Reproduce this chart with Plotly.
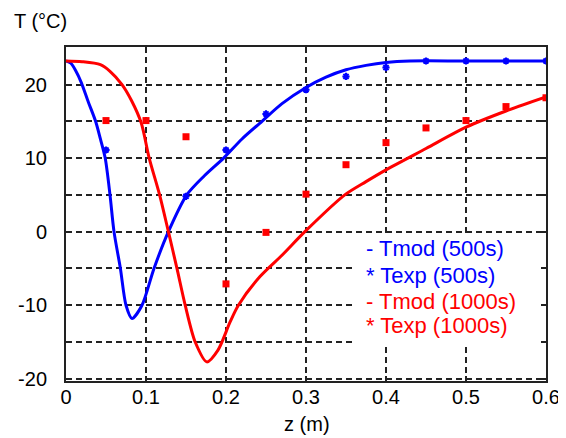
import plotly.graph_objects as go

# Model curve, t = 500 s
z_mod_500 = [0.0, 0.006, 0.012, 0.019, 0.028, 0.037, 0.043, 0.049, 0.055, 0.06, 0.068, 0.075,
             0.0825, 0.095, 0.11, 0.128, 0.151, 0.173, 0.197, 0.22, 0.245, 0.27, 0.3,
             0.325, 0.35, 0.375, 0.4, 0.43, 0.5, 0.6]
T_mod_500 = [23.2, 22.9, 21.9, 20.3, 17.6, 15.0, 12.6, 10.0, 5.0, 0.0, -5.0, -10.0,
             -11.8, -10.0, -5.0, 0.0, 5.0, 7.6, 10.0, 12.6, 15.0, 17.4, 19.6,
             21.0, 22.0, 22.6, 23.0, 23.2, 23.2, 23.2]

# Model curve, t = 1000 s
z_mod_1000 = [0.0, 0.02, 0.043, 0.055, 0.07, 0.082, 0.094, 0.104, 0.117, 0.128, 0.1387,
              0.149, 0.1615, 0.176, 0.19, 0.205, 0.2155, 0.2425, 0.27, 0.2986, 0.3485,
              0.375, 0.4, 0.45, 0.5, 0.55, 0.6]
T_mod_1000 = [23.2, 23.1, 22.7, 21.8, 20.0, 17.8, 14.8, 10.0, 5.0, 0.0, -5.0,
              -10.0, -15.0, -17.7, -16.1, -12.3, -10.0, -6.1, -3.2, 0.0, 5.0,
              6.8, 8.4, 11.3, 14.2, 16.4, 18.3]

# Experimental points
z_exp_500 = [0.05, 0.15, 0.2, 0.25, 0.3, 0.35, 0.4, 0.45, 0.5, 0.55, 0.6]
T_exp_500 = [11.1, 4.8, 11.1, 16.0, 19.3, 21.1, 22.3, 23.2, 23.2, 23.2, 23.2]

z_exp_1000 = [0.05, 0.1, 0.15, 0.2, 0.25, 0.3, 0.35, 0.4, 0.45, 0.5, 0.55, 0.6]
T_exp_1000 = [15.1, 15.1, 12.9, -7.1, -0.1, 5.1, 9.1, 12.1, 14.1, 15.1, 17.0, 18.2]

x_ticks = [0, 0.1, 0.2, 0.3, 0.4, 0.5, 0.6]
x_labels = ["0", "0.1", "0.2", "0.3", "0.4", "0.5", "0.6"]
y_ticks = [-20, -15, -10, -5, 0, 5, 10, 15, 20]
y_labels = ["-20", "", "-10", "", "0", "", "10", "", "20"]

legend_texts = ["- Tmod (500s)", "* Texp (500s)", "- Tmod (1000s)", "* Texp (1000s)"]
legend_colors = ["#0000FF", "#0000FF", "#FF0000", "#FF0000"]
legend_y = [-2.3, -5.9, -9.5, -12.7]

BLUE = "#0000FF"
RED = "#FF0000"
FONT = "Liberation Sans"

# The page places the figure 8 px in from the top-left corner (body margin),
# so the figure is laid out in coordinates shifted by that offset.
OFF = 8
W, H = 566 - OFF, 438 - OFF
L, R, T, B = 66 - OFF, 20, 47 - OFF, 57
PW, PH = W - L - R, H - T - B


def px_to_paper(px, py):
    """Reference-image pixel -> paper coordinates."""
    fx, fy = px - OFF, py - OFF
    return (fx - L) / PW, (H - B - fy) / PH


fig = go.Figure()
fig.add_trace(go.Scatter(x=z_mod_500, y=T_mod_500, mode="lines",
                         line=dict(color=BLUE, width=3, shape="spline", smoothing=0.8)))
fig.add_trace(go.Scatter(x=z_mod_1000, y=T_mod_1000, mode="lines",
                         line=dict(color=RED, width=3, shape="spline", smoothing=0.8)))
fig.add_trace(go.Scatter(x=z_exp_500, y=T_exp_500, mode="markers",
                         marker=dict(symbol="asterisk-open", size=6, color=BLUE,
                                     line=dict(color=BLUE, width=2))))
fig.add_trace(go.Scatter(x=z_exp_1000, y=T_exp_1000, mode="markers",
                         marker=dict(symbol="square", size=7, color=RED,
                                     line=dict(color=RED, width=0))))

# white legend area
fig.add_shape(type="rect", xref="x", yref="y", x0=0.361, x1=0.598, y0=-15.6, y1=-0.35,
              fillcolor="white", line=dict(width=0), layer="between")

for txt, col, yy in zip(legend_texts, legend_colors, legend_y):
    fig.add_annotation(x=0.372, y=yy, xref="x", yref="y", text=txt, showarrow=False,
                       xanchor="left", yanchor="middle",
                       font=dict(family=FONT, size=22, color=col))

tx, ty = px_to_paper(12, 21)
fig.add_annotation(x=tx, y=ty, xref="paper", yref="paper", text="T (°C)", showarrow=False,
                   xanchor="left", yanchor="middle",
                   font=dict(family=FONT, size=20, color="black"))
zx, zy = px_to_paper(307, 424)
fig.add_annotation(x=zx, y=zy, xref="paper", yref="paper", text="z (m)",
                   showarrow=False, xanchor="center", yanchor="middle",
                   font=dict(family=FONT, size=20, color="black"))

axis_common = dict(showline=True, linecolor="#222222", linewidth=2, mirror="ticks",
                   ticks="inside", ticklen=5, tickwidth=1.5, tickcolor="#222222",
                   showgrid=True, gridcolor="#222222", gridwidth=1.5, griddash="6px,4px",
                   zeroline=False, automargin=False,
                   tickfont=dict(family=FONT, size=20, color="black"))

fig.update_xaxes(range=[0, 0.6], tickvals=x_ticks, ticktext=x_labels,
                 ticklabelstandoff=-3, **axis_common)
fig.update_yaxes(range=[-20.3, 25.1], tickvals=y_ticks, ticktext=y_labels,
                 ticklabelstandoff=13, **axis_common)

fig.update_layout(width=W, height=H, margin=dict(l=L, r=R, t=T, b=B),
                  plot_bgcolor="white", paper_bgcolor="white", showlegend=False)

fig.write_html("out.html")
